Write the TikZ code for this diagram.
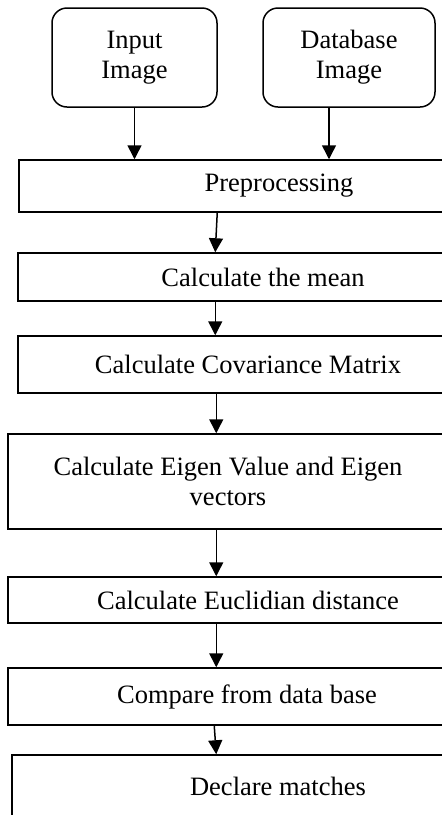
\documentclass[tikz,border=0pt]{standalone}
\usepackage{fontspec}
\setmainfont{Liberation Serif}
\usetikzlibrary{arrows.meta,calc}
\begin{document}
\begin{tikzpicture}[x=1pt,y=-1pt,
  every node/.style={font=\fontsize{26.5}{30}\selectfont},
  box/.style={draw,line width=1.5pt,rectangle,inner sep=0pt,align=center},
  rbox/.style={box,rounded corners=15pt},
  arr/.style={line width=1.5pt,-{Triangle[length=14pt,width=14pt]}}]
\useasboundingbox (0,0) rectangle (442,815);
\clip (0,0) rectangle (442,815);
\node[rbox,minimum width=165pt,minimum height=99pt] (in) at (134.5,57.5) {Input\\Image};
\node[rbox,minimum width=172pt,minimum height=99pt] (db) at (349,57.5) {Database\\Image};
\node[box,minimum width=520pt,minimum height=52pt] (pre) at (279,186) {Preprocessing};
\node[box,minimum width=490pt,minimum height=48pt] (mean) at (263,277) {Calculate the mean};
\node[box,minimum width=460pt,minimum height=57pt] (cov) at (248,364.5) {Calculate Covariance Matrix};
\node[box,minimum width=440pt,minimum height=95pt] (eig) at (228,481.5) {Calculate Eigen Value and Eigen\\vectors};
\node[box,minimum width=480pt,minimum height=46pt] (euc) at (248,600) {Calculate Euclidian distance};
\node[box,minimum width=478pt,minimum height=57pt] (cmp) at (247,696.5) {Compare from data base};
\node[box,minimum width=532pt,minimum height=62pt] (decl) at (278,786) {Declare matches};
\draw[arr] (in.south) -- (in.south |- pre.north);
\draw[arr] ([xshift=-20pt]db.south) -- ([xshift=-20pt]db.south |- pre.north);
\draw[arr] ([xshift=199pt]pre.south west) -- ([xshift=198pt]mean.north west);
\draw[arr] ([xshift=198pt]mean.south west) -- ([xshift=198pt]cov.north west);
\draw[arr] ([xshift=199pt]cov.south west) -- ([xshift=209pt]eig.north west);
\draw[arr] ([xshift=209pt]eig.south west) -- ([xshift=209pt]euc.north west);
\draw[arr] ([xshift=209pt]euc.south west) -- ([xshift=209pt]cmp.north west);
\draw[arr] ([xshift=207pt]cmp.south west) -- ([xshift=205pt]decl.north west);
\end{tikzpicture}
\end{document}
